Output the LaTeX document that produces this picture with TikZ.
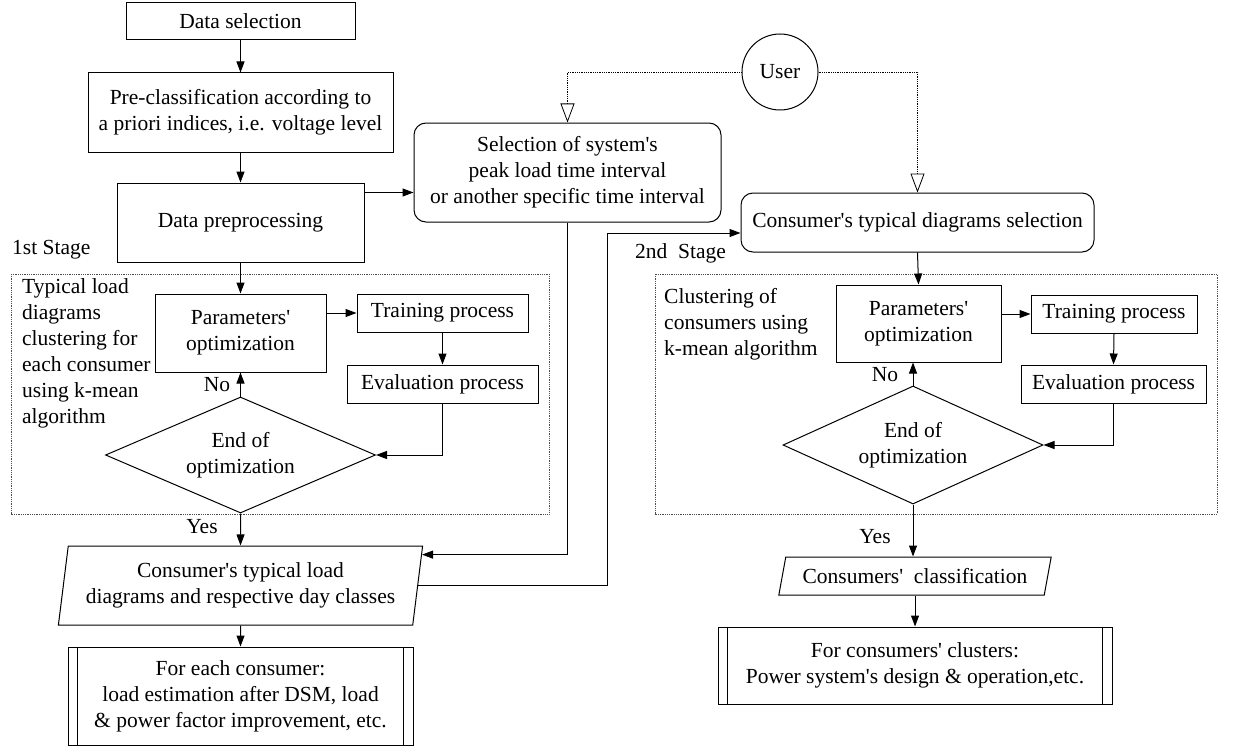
\documentclass[tikz,border=0pt]{standalone}
\usepackage{fontspec}
\setmainfont{Liberation Serif}[Ligatures=TeXOff]
\usetikzlibrary{shapes.geometric,arrows.meta,calc}
\begin{document}
\begin{tikzpicture}[x=1pt,y=-1pt,
  every node/.style={font=\fontsize{21.5}{26}\selectfont, inner sep=0pt},
  blk/.style={draw, line width=1pt, align=center},
  rbox/.style={blk, rounded corners=12pt},
  dia/.style={draw, line width=1pt, diamond, aspect=2.3, align=center},
  para/.style={draw, line width=1pt, trapezium, trapezium stretches=true, align=center},
  ln/.style={line width=1pt},
  arr/.style={line width=1pt, -{Triangle[length=11pt,width=8pt]}},
  uarr/.style={line width=0.8pt, densely dotted, -{Triangle[open,length=19pt,width=14pt]}},
  stg/.style={line width=0.8pt, densely dotted, black!70}
]
\useasboundingbox (0,0) rectangle (1238,749);

% left column
\node[blk, minimum width=229pt, minimum height=37pt] (ds) at (240.5,21.5) {Data selection};
\node[blk, minimum width=305pt, minimum height=79pt] (pre) at (240.5,112.5) {Pre-classification according to\\a priori indices, i.e. voltage level};
\node[blk, minimum width=247pt, minimum height=79pt] (dp) at (240.5,222.5) {Data preprocessing};
\node[rbox, minimum width=307pt, minimum height=99pt] (sel) at (567.5,172.5) {Selection of system's\\peak load time interval\\or another specific time interval};
\node[draw, line width=1pt, circle, minimum size=76pt] (user) at (780,72) {User};
\node[rbox, minimum width=353pt, minimum height=59pt] (cts) at (917.5,222.5) {Consumer's typical diagrams selection};

% stage boxes
\draw[stg] (11,274) rectangle (549,514);
\draw[stg] (655,274) rectangle (1217,514);
\node[anchor=west] (s1) at (12,250) {1st Stage};
\node[anchor=west] (s2) at (635,253) {2nd\ \ Stage};
\node[anchor=north west, align=left] (t1) at (22,278) {Typical load\\diagrams\\clustering for\\each consumer\\using k-mean\\algorithm};
\node[anchor=north west, align=left] (t2) at (664,288) {Clustering of\\consumers using\\k-mean algorithm};

% stage 1
\node[blk, minimum width=171pt, minimum height=78pt] (pa1) at (240.5,333) {Parameters'\\optimization};
\node[blk, minimum width=171pt, minimum height=38pt] (tr1) at (442.5,313) {Training process};
\node[blk, minimum width=191pt, minimum height=38pt] (ev1) at (442.5,384) {Evaluation process};
\node[dia, minimum width=270pt, minimum height=116pt] (d1) at (240.5,455) {End of\\optimization};
\node[para, trapezium left angle=79, trapezium right angle=101, minimum width=365pt, minimum height=79pt] (para1) at (240.5,585.5) {Consumer's typical load\\diagrams and respective day classes};
\node[blk, minimum width=345pt, minimum height=98pt] (bot1) at (240.5,696) {For each consumer:\\load estimation after DSM, load\\\& power factor improvement, etc.};
\draw[ln] ([xshift=10pt]bot1.north west) -- ([xshift=10pt]bot1.south west);
\draw[ln] ([xshift=-10pt]bot1.north east) -- ([xshift=-10pt]bot1.south east);
\node (no1) at (217,385) {No};
\node (yes1) at (202,527) {Yes};

% stage 2
\node[blk, minimum width=165pt, minimum height=77pt] (pa2) at (918.5,323.5) {Parameters'\\optimization};
\node[blk, minimum width=166pt, minimum height=38pt] (tr2) at (1114,314) {Training process};
\node[blk, minimum width=185pt, minimum height=38pt] (ev2) at (1113.5,384) {Evaluation process};
\node[dia, minimum width=260pt, minimum height=118pt] (d2) at (913,445) {End of\\optimization};
\node[para, trapezium left angle=68.5, trapezium right angle=111.5, minimum width=273pt, minimum height=38pt] (para2) at (915,576) {Consumers'\ \ classification};
\node[blk, minimum width=394pt, minimum height=77pt] (bot2) at (915,665.5) {For consumers' clusters:\\Power system's design \& operation,etc.};
\draw[ln] ([xshift=10pt]bot2.north west) -- ([xshift=10pt]bot2.south west);
\draw[ln] ([xshift=-10pt]bot2.north east) -- ([xshift=-10pt]bot2.south east);
\node (no2) at (885,375) {No};
\node (yes2) at (875,537) {Yes};

% connectors
\draw[arr] (ds.south) -- (pre.north);
\draw[arr] (pre.south) -- (dp.north);
\coordinate (c1) at ([yshift=-10pt]dp.north east);
\draw[arr] (c1) -- (c1 -| sel.west);
\draw[uarr] (user.west) -| (sel.north);
\draw[uarr] (user.east) -| (cts.north);
\coordinate (pin) at ($(para1.top right corner)!0.114!(para1.bottom right corner)$);
\draw[arr] (sel.south) |- (pin);
\coordinate (xr) at (607,0);
\coordinate (cin) at ([yshift=-10.5pt]cts.west);
\draw[arr] (para1.east) -- (para1.east -| xr) |- (cin);

\draw[arr] (dp.south) -- (pa1.north);
\draw[arr] (tr1.west -| pa1.east) -- (tr1.west);
\draw[arr] (tr1.south) -- (ev1.north);
\draw[arr] (ev1.south) |- (d1.east);
\draw[arr] (d1.north) -- (pa1.south);
\draw[arr] (d1.south) -- (para1.north);
\draw[arr] (para1.south) -- (bot1.north);

\draw[arr] (cts.south) -- (pa2.north);
\draw[arr] (tr2.west -| pa2.east) -- (tr2.west);
\draw[arr] (tr2.south) -- (ev2.north);
\draw[arr] (ev2.south) |- (d2.east);
\draw[arr] (d2.north) -- (d2.north |- pa2.south);
\draw[arr] (d2.south) -- (d2.south |- para2.north);
\draw[arr] (para2.south) -- (para2.south |- bot2.north);
\end{tikzpicture}
\end{document}
